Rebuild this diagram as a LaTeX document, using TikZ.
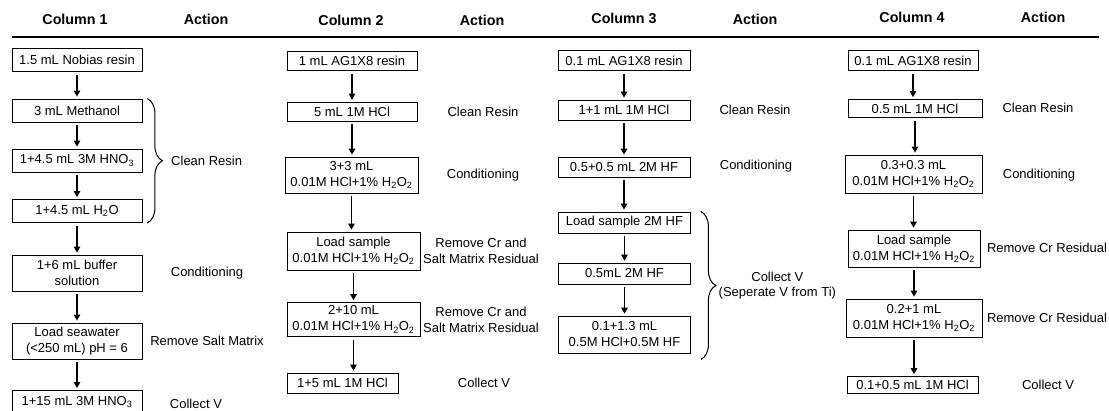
\documentclass[tikz,border=0pt]{standalone}
\usepackage{fontspec}
\setmainfont{Liberation Sans}
\usetikzlibrary{arrows.meta,positioning,decorations.pathreplacing}

\tikzset{
  stepbox/.style={draw, line width=0.8pt, minimum width=130pt, minimum height=20pt,
    inner xsep=3pt, inner ysep=3pt, align=center, font=\fontsize{13}{16}\selectfont},
  actlabel/.style={align=center, font=\fontsize{13}{15.5}\selectfont},
  colhead/.style={font=\fontsize{14.3}{16}\selectfont\bfseries},
  flow/.style={line width=1.4pt, -{Triangle[length=6pt,width=6.5pt]}, shorten <=3pt, shorten >=2pt},
  brc/.style={decorate, decoration={brace, amplitude=15pt}, line width=1pt}
}
\newcommand{\hho}{H\textsubscript{2}O\textsubscript{2}}

\begin{document}
\begin{tikzpicture}[x=1pt, y=-1pt]
        \useasboundingbox (0,0) rectangle (1109,410);

        % Header
        \node[colhead] (h1) at (75,19) {Column 1};
        \node[colhead] (h2) at (206,19) {Action};
        \node[colhead] (h3) at (351,20) {Column 2};
        \node[colhead] (h4) at (482,20) {Action};
        \node[colhead] (h5) at (624,18) {Column 3};
        \node[colhead] (h6) at (755,19) {Action};
        \node[colhead] (h7) at (912,17) {Column 4};
        \node[colhead] (h8) at (1043,17) {Action};
        \draw[line width=1.5pt] (12,37) -- (1099,37);

        % Column 1
        \node[stepbox, minimum height=23pt] (c1a) at (77,60) {1.5 mL Nobias resin};
        \node[stepbox, minimum height=23pt] (c1b) at (77,110.5) {3 mL Methanol};
        \node[stepbox, minimum height=23pt] (c1c) at (77,160.5) {1+4.5 mL 3M HNO\textsubscript{3}};
        \node[stepbox, minimum height=23pt] (c1d) at (77,211) {1+4.5 mL H\textsubscript{2}O};
        \node[stepbox, minimum height=36pt] (c1e) at (77,273) {1+6 mL buffer\\solution};
        \node[stepbox, minimum height=36pt] (c1f) at (77,341) {Load seawater\\(<250 mL) pH = 6};
        \node[stepbox, minimum height=23pt] (c1g) at (77,402) {1+15 mL 3M HNO\textsubscript{3}};
        \draw[flow] (c1a.south) -- (c1a.south |- c1b.north);
        \draw[flow] (c1b.south) -- (c1b.south |- c1c.north);
        \draw[flow] (c1c.south) -- (c1c.south |- c1d.north);
        \draw[flow] (c1d.south) -- (c1d.south |- c1e.north);
        \draw[flow] (c1e.south) -- (c1e.south |- c1f.north);
        \draw[flow] (c1f.south) -- (c1f.south |- c1g.north);

        % Column 1 actions
        \draw[brc] ([xshift=5pt]c1b.north east) -- ([xshift=5pt]c1d.south east)
            node[actlabel, midway, right=20pt] (a1a) {Clean Resin};
        \node[actlabel] (a1b) at (207,273) {Conditioning};
        \node[actlabel] (a1c) at (207,341) {Remove Salt Matrix};
        \node[actlabel] (a1d) at (196,404) {Collect V};

        % Column 2
        \node[stepbox, minimum height=19pt] (c2a) at (352,61) {1 mL AG1X8 resin};
        \node[stepbox, minimum height=19pt] (c2b) at (352,111.5) {5 mL 1M HCl};
        \node[stepbox, minimum width=133pt, minimum height=36pt] (c2c) at (351.5,175) {3+3 mL\\0.01M HCl+1\% \hho};
        \node[stepbox, minimum width=133pt, minimum height=38pt] (c2d) at (353.5,251) {Load sample\\0.01M HCl+1\% \hho};
        \node[stepbox, minimum width=133pt, minimum height=34pt] (c2e) at (353.5,319.5) {2+10 mL\\0.01M HCl+1\% \hho};
        \node[stepbox, minimum width=111pt] (c2f) at (342.5,383) {1+5 mL 1M HCl};
        \draw[flow] (c2a.south) -- (c2a.south |- c2b.north);
        \draw[flow] (c2b.south) -- (c2b.south |- c2c.north);
        \draw[flow] (c2c.south) -- (c2c.south |- c2d.north);
        \draw[flow] (c2d.south) -- (c2d.south |- c2e.north);
        \draw[flow] (c2e.south) -- (c2e.south |- c2f.north);

        % Column 2 actions
        \node[actlabel] (a2a) at (483,112) {Clean Resin};
        \node[actlabel] (a2b) at (483,175) {Conditioning};
        \node[actlabel] (a2c) at (481,251) {Remove Cr and\\Salt Matrix Residual};
        \node[actlabel] (a2d) at (481,320) {Remove Cr and\\Salt Matrix Residual};
        \node[actlabel] (a2e) at (484,383) {Collect V};

        % Column 3
        \node[stepbox, minimum width=132pt] (c3a) at (624,60.5) {0.1 mL AG1X8 resin};
        \node[stepbox, minimum width=132pt] (c3b) at (624,110) {1+1 mL 1M HCl};
        \node[stepbox, minimum width=132pt] (c3c) at (624,167) {0.5+0.5 mL 2M HF};
        \node[stepbox, minimum width=132pt, minimum height=21pt] (c3d) at (624.5,222.5) {Load sample 2M HF};
        \node[stepbox, minimum width=132pt, minimum height=21pt] (c3e) at (624.5,273.5) {0.5mL 2M HF};
        \node[stepbox, minimum width=132pt, minimum height=37pt] (c3f) at (624.5,334.5) {0.1+1.3 mL\\0.5M HCl+0.5M HF};
        \draw[flow] (c3a.south) -- (c3a.south |- c3b.north);
        \draw[flow] (c3b.south) -- (c3b.south |- c3c.north);
        \draw[flow] (c3c.south) -- (c3c.south |- c3d.north);
        \draw[flow] (c3d.south) -- (c3d.south |- c3e.north);
        \draw[flow] (c3e.south) -- (c3e.south |- c3f.north);

        % Column 3 actions
        \node[actlabel] (a3a) at (755,110) {Clean Resin};
        \node[actlabel] (a3b) at (756,166) {Conditioning};
        \draw[brc] ([xshift=10pt]c3d.north east) -- ([xshift=10pt,yshift=-6pt]c3f.south east)
            node[actlabel, midway, right=14pt] (a3c) {Collect V\\(Seperate V from Ti)};

        % Column 4
        \node[stepbox] (c4a) at (913,60.5) {0.1 mL AG1X8 resin};
        \node[stepbox, minimum width=134pt, minimum height=18pt] (c4b) at (915,108.5) {0.5 mL 1M HCl};
        \node[stepbox, minimum width=137pt, minimum height=38pt] (c4c) at (913.5,174) {0.3+0.3 mL\\0.01M HCl+1\% \hho};
        \node[stepbox, minimum width=132pt, minimum height=37pt] (c4d) at (914,248.5) {Load sample\\0.01M HCl+1\% \hho};
        \node[stepbox, minimum width=136pt, minimum height=38pt] (c4e) at (914,318) {0.2+1 mL\\0.01M HCl+1\% \hho};
        \node[stepbox, minimum width=131pt, minimum height=17pt] (c4f) at (912.5,385) {0.1+0.5 mL 1M HCl};
        \draw[flow] (c4a.south) -- (c4a.south |- c4b.north);
        \draw[flow] (c4b.south) -- (c4b.south |- c4c.north);
        \draw[flow] (c4c.south) -- (c4c.south |- c4d.north);
        \draw[flow] (c4d.south) -- (c4d.south |- c4e.north);
        \draw[flow] (c4e.south) -- (c4e.south |- c4f.north);

        % Column 4 actions
        \node[actlabel] (a4a) at (1038,108) {Clean Resin};
        \node[actlabel] (a4b) at (1039,175) {Conditioning};
        \node[actlabel] (a4c) at (1047,248) {Remove Cr Residual};
        \node[actlabel] (a4d) at (1047,318) {Remove Cr Residual};
        \node[actlabel] (a4e) at (1048,385) {Collect V};
    \end{tikzpicture}
\end{document}
